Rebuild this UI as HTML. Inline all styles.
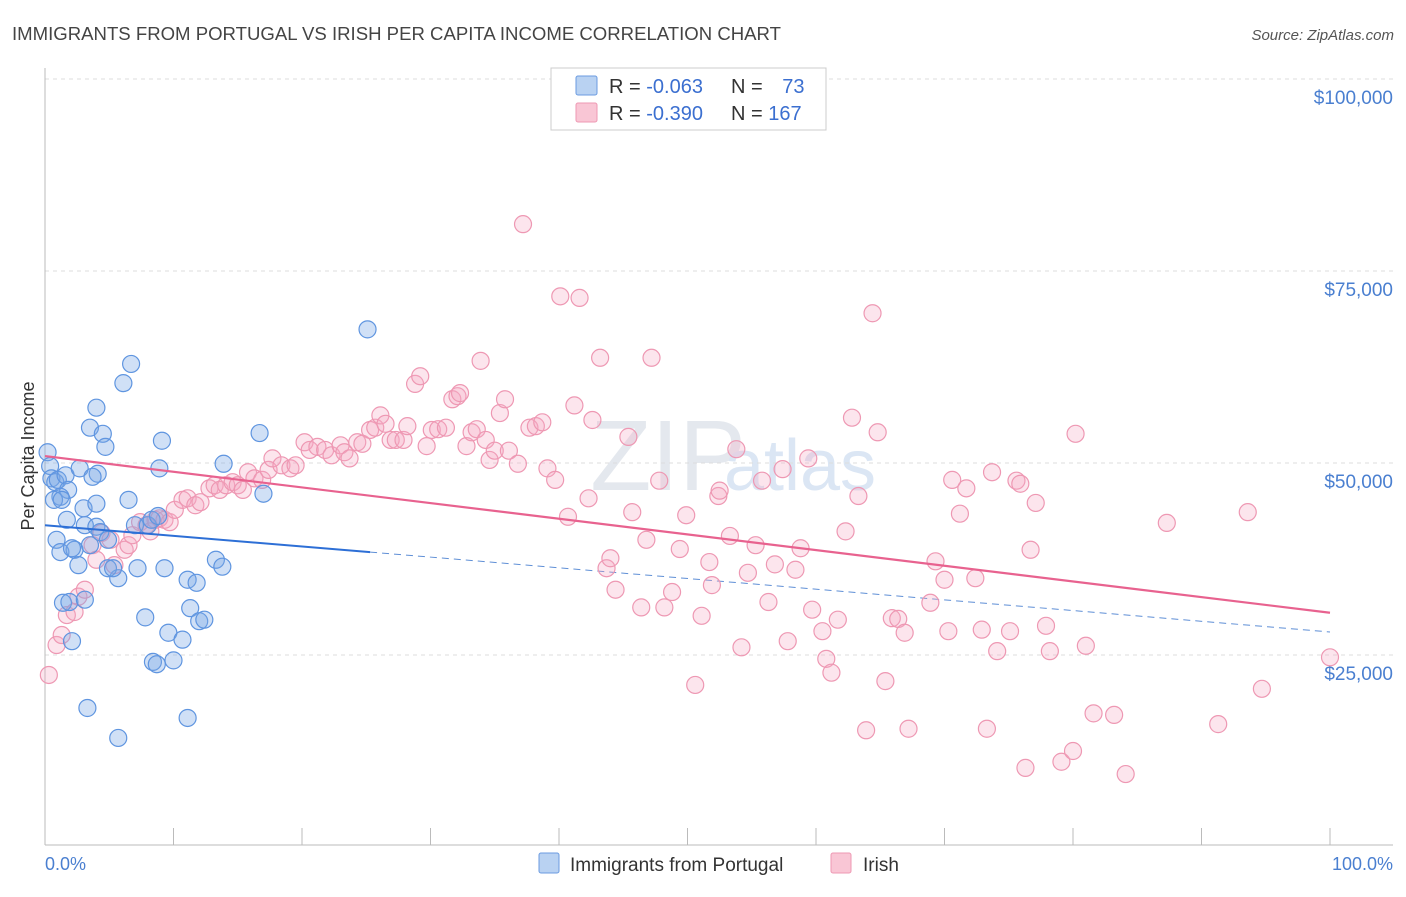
<!DOCTYPE html>
<html><head><meta charset="utf-8"><style>
body{margin:0;background:#fff;font-family:"Liberation Sans",sans-serif;}
svg text{font-family:"Liberation Sans",sans-serif;}
</style></head><body>
<svg width="1406" height="892" xmlns="http://www.w3.org/2000/svg" id="chart">
<text x="12" y="40" font-size="18" fill="#444" textLength="769" lengthAdjust="spacingAndGlyphs">IMMIGRANTS FROM PORTUGAL VS IRISH PER CAPITA INCOME CORRELATION CHART</text>
<text x="1394" y="40" font-size="15" fill="#555" text-anchor="end" font-style="italic">Source: ZipAtlas.com</text>
<text x="668" y="490" font-size="100" fill="#e4e8ee" text-anchor="middle" font-family="Liberation Serif">ZIP</text>
<text x="800" y="490" font-size="72" fill="#dbe6f4" text-anchor="middle">atlas</text>
<g id="grid"></g><g id="axes"></g><g id="lines"></g><g id="pts"></g>
<text transform="translate(34,456) rotate(-90)" font-size="18" fill="#333" text-anchor="middle">Per Capita Income</text>
<text x="45" y="870" font-size="18" fill="#4a7fd0">0.0%</text>
<text x="1393" y="870" font-size="18" fill="#4a7fd0" text-anchor="end">100.0%</text>
<g>
<rect x="551" y="68" width="275" height="62" fill="#fff" stroke="#ccc"/>
<rect x="576" y="76" width="21" height="19" fill="#b9d2f2" stroke="#6b9be0" rx="2"/>
<rect x="576" y="103" width="21" height="19" fill="#f9c6d5" stroke="#ee98b3" rx="2"/>
<text x="609" y="93" font-size="20" fill="#333">R = <tspan fill="#3b6fd0">-0.063</tspan></text>
<text x="731" y="93" font-size="20" fill="#333">N = <tspan fill="#3b6fd0" dx="14">73</tspan></text>
<text x="609" y="120" font-size="20" fill="#333">R = <tspan fill="#3b6fd0">-0.390</tspan></text>
<text x="731" y="120" font-size="20" fill="#333">N = <tspan fill="#3b6fd0">167</tspan></text>
</g>
<g>
<rect x="539" y="853" width="20" height="20" fill="#b9d2f2" stroke="#6b9be0" rx="2"/>
<text x="570" y="871" font-size="19" fill="#333">Immigrants from Portugal</text>
<rect x="831" y="853" width="20" height="20" fill="#f9c6d5" stroke="#ee98b3" rx="2"/>
<text x="863" y="871" font-size="19" fill="#333">Irish</text>
</g>
</svg>
<script>
const yTicks=[25000,50000,75000,100000];
const yTickLabels=["$25,000","$50,000","$75,000","$100,000"];
const xTicks=[0,10,20,30,40,50,60,70,80,90,100];
const blueX=[0.2,0.4,0.5,0.8,1.0,1.6,1.8,1.2,0.7,1.3,1.7,0.9,1.2,2.3,2.6,2.1,3.1,3.0,2.7,3.5,4.0,4.5,4.7,4.1,4.0,3.7,4.0,4.3,4.9,3.5,1.4,1.9,3.1,2.1,3.3,5.7,6.1,6.7,6.5,7.0,7.2,5.7,4.9,8.0,8.3,8.8,8.9,9.1,9.3,7.8,9.6,8.4,8.7,10.0,10.7,11.1,11.8,11.3,12.0,12.4,11.1,13.3,13.8,13.9,16.7,17.0,25.1,5.3];
const blueY=[51.4,49.6,48.0,47.5,47.8,48.4,46.5,45.6,45.2,45.2,42.6,40.0,38.4,38.7,36.7,38.9,41.9,44.1,49.3,54.6,57.2,53.8,52.1,48.6,44.7,48.2,41.7,41.0,40.0,39.3,31.8,31.9,32.2,26.8,18.1,14.2,60.4,62.9,45.2,41.9,36.3,35.0,36.3,41.9,42.6,43.1,49.3,52.9,36.3,29.9,27.9,24.1,23.8,24.3,27.0,34.8,34.4,31.1,29.4,29.6,16.8,37.4,36.5,49.9,53.9,46.0,67.4,36.3];
const pinkX=[0.3,0.9,1.3,1.7,2.3,2.6,3.1,3.7,4.0,4.4,5.1,5.4,6.2,6.5,6.8,7.4,7.9,8.2,8.6,8.9,9.3,9.7,10.1,10.7,11.1,11.7,12.1,12.8,13.2,13.6,14.1,14.6,15.0,15.4,15.8,16.3,16.9,17.4,17.7,18.4,19.1,19.5,20.2,20.6,21.2,21.8,22.3,23.0,23.3,23.7,24.3,24.7,25.3,25.7,26.1,26.5,26.9,27.3,27.9,28.2,28.8,29.2,29.7,30.1,30.6,31.2,31.7,32.1,32.3,32.8,33.2,33.6,33.9,34.3,34.6,35.0,35.4,35.8,36.1,36.8,37.2,37.7,38.2,38.7,39.1,39.7,40.1,40.7,41.2,41.6,42.3,42.6,43.2,43.7,44.0,44.4,45.4,45.7,46.4,46.8,47.2,47.8,48.2,48.8,49.4,49.9,50.6,51.1,51.7,51.9,52.4,52.5,53.3,53.8,54.2,54.7,55.3,55.8,56.3,56.8,57.4,57.8,58.4,58.8,59.4,59.7,60.5,60.8,61.2,61.7,62.3,62.8,63.3,63.9,64.4,64.8,65.4,65.9,66.4,66.9,67.2,68.9,69.3,70.0,70.3,70.6,71.2,71.7,72.4,72.9,73.3,73.7,74.1,75.1,75.6,75.9,76.3,76.7,77.1,77.9,78.2,79.1,80.0,80.2,81.0,81.6,83.2,84.1,87.3,91.3,93.6,94.7,100];
const pinkY=[22.4,26.3,27.6,30.2,30.6,32.6,33.5,39.3,37.4,40.9,40.0,36.7,38.7,39.3,40.6,42.3,41.9,41.1,42.6,42.8,42.6,42.3,43.9,45.2,45.4,44.5,44.9,46.7,47.1,46.5,47.1,47.5,47.1,46.5,48.8,48.0,47.8,49.1,50.6,49.7,49.3,49.7,52.7,51.7,52.1,51.7,51.0,52.3,51.4,50.6,52.7,52.5,54.3,54.6,56.2,55.1,53.0,53.0,53.0,54.8,60.3,61.3,52.2,54.3,54.4,54.6,58.3,58.7,59.1,52.2,54.0,54.4,63.3,53.0,50.4,51.6,56.5,58.3,51.6,49.9,81.1,54.6,54.8,55.3,49.3,47.8,71.7,43.0,57.5,71.5,45.4,55.6,63.7,36.3,37.6,33.5,53.4,43.6,31.2,40.0,63.7,47.7,31.2,33.2,38.8,43.2,21.1,30.1,37.1,34.1,45.7,46.4,40.5,51.8,26.0,35.7,39.3,47.7,31.9,36.8,49.2,26.8,36.1,38.9,50.6,30.9,28.1,24.5,22.7,29.6,41.1,55.9,45.7,15.2,69.5,54.0,21.6,29.8,29.7,27.9,15.4,31.8,37.2,34.8,28.1,47.8,43.4,46.7,35.0,28.3,15.4,48.8,25.5,28.1,47.7,47.3,10.3,38.7,44.8,28.8,25.5,11.1,12.5,53.8,26.2,17.4,17.2,9.5,42.2,16.0,43.6,20.6,24.7];
const blueTrendX=[0,25.3,100];
const blueTrendY=[41.9,38.4,28.0];
const pinkTrendX=[0,100];
const pinkTrendY=[50.9,30.5];

const NS="http://www.w3.org/2000/svg";
const xs=v=>45+v*12.85;
const ys=k=>847-k*7.68;
function mk(t,a,p){const e=document.createElementNS(NS,t);for(const k in a)e.setAttribute(k,a[k]);p.appendChild(e);return e;}
const grid=document.getElementById('grid'),axes=document.getElementById('axes'),lines=document.getElementById('lines'),pts=document.getElementById('pts');
yTicks.forEach((t,i)=>{
 const y=ys(t/1000);
 const g=mk('line',{x1:45,x2:1393,y1:y,y2:y,stroke:'#ddd','stroke-dasharray':'4,4'},grid);
 
 
 const tx=mk('text',{x:1393,y:y+25,'font-size':19,fill:'#4a7fd0','text-anchor':'end'},grid);
 tx.textContent=yTickLabels[i];
 
 
});
const ax=mk('line',{x1:45,x2:45,y1:68,y2:845,stroke:'#bbb'},axes);


const bx=mk('line',{x1:45,x2:1393,y1:845,y2:845,stroke:'#bbb'},axes);


xTicks.forEach(t=>{
 const l=mk('line',{x1:xs(t),x2:xs(t),y1:828,y2:845,stroke:'#bbb'},axes);
 
 
});
function pt(x,y,s,f,name){
 const c=mk('circle',{cx:xs(x),cy:ys(y),r:8.5,fill:f,stroke:s,'stroke-width':1.2},pts);
 
 
}
pinkX.forEach((x,i)=>pt(x,pinkY[i],'#ee98b3','rgba(245,170,195,0.3)','irish-point'));
blueX.forEach((x,i)=>pt(x,blueY[i],'#5f95e0','rgba(120,165,230,0.35)','portugal-point'));
const b1=mk('line',{x1:xs(blueTrendX[0]),y1:ys(blueTrendY[0]),x2:xs(blueTrendX[1]),y2:ys(blueTrendY[1]),stroke:'#2d6fd6','stroke-width':2},lines);


const b2=mk('line',{x1:xs(blueTrendX[1]),y1:ys(blueTrendY[1]),x2:xs(blueTrendX[2]),y2:ys(blueTrendY[2]),stroke:'#5f8fd6','stroke-width':1,'stroke-dasharray':'7,5'},lines);


const p1=mk('line',{x1:xs(pinkTrendX[0]),y1:ys(pinkTrendY[0]),x2:xs(pinkTrendX[1]),y2:ys(pinkTrendY[1]),stroke:'#e8628f','stroke-width':2.2},pts);


pts.appendChild(b1);
</script>
</body></html>
